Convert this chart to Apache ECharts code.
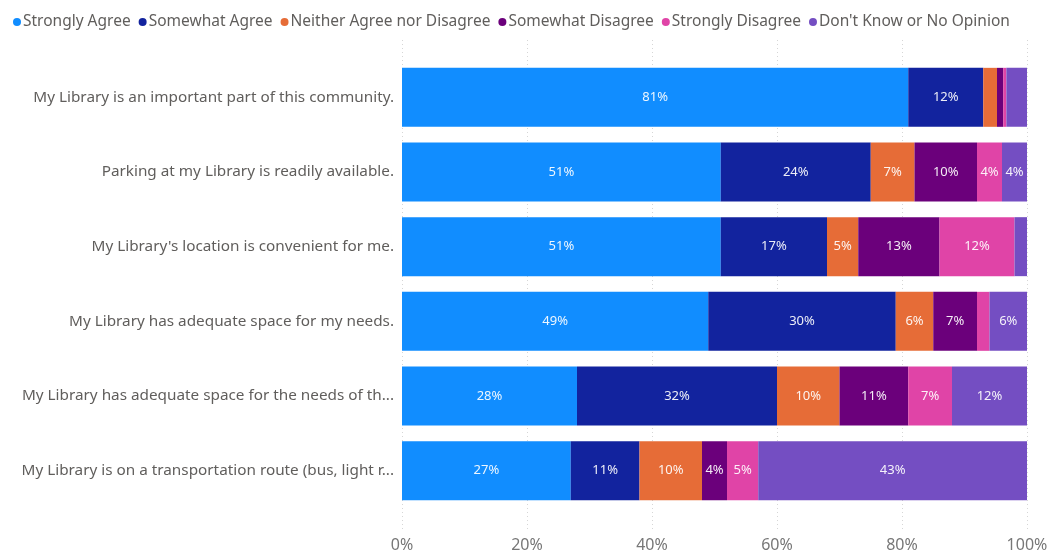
<!DOCTYPE html>
<html>
<head>
<meta charset="utf-8">
<script src="https://cdn.jsdelivr.net/npm/echarts@6/dist/echarts.min.js"></script>
<style>
  html, body { margin: 0; padding: 0; background: #ffffff; }
  #chart { width: 1055px; height: 553px; }
</style>
</head>
<body>
<div id="chart"></div>
<script>
// Survey statements, top to bottom
const statements = [
  "My Library is an important part of this community.",
  "Parking at my Library is readily available.",
  "My Library's location is convenient for me.",
  "My Library has adequate space for my needs.",
  "My Library has adequate space for the needs of th...",
  "My Library is on a transportation route (bus, light r..."
];

// Response shares (%), one array per answer, in statement order
const stronglyAgree      = [81, 51, 51, 49, 28, 27];
const somewhatAgree      = [12, 24, 17, 30, 32, 11];
const neitherAgree       = [2.2, 7, 5, 6, 10, 10];
const somewhatDisagree   = [1.0, 10, 13, 7, 11, 4];
const stronglyDisagree   = [0.5, 4, 12, 2, 7, 5];
const dontKnow           = [3.3, 4, 2, 6, 12, 43];

const xTicks = [0, 20, 40, 60, 80, 100];

const seriesDefs = [
  { name: "Strongly Agree", data: stronglyAgree, color: "#118DFF" },
  { name: "Somewhat Agree", data: somewhatAgree, color: "#12239E" },
  { name: "Neither Agree nor Disagree", data: neitherAgree, color: "#E66C37" },
  { name: "Somewhat Disagree", data: somewhatDisagree, color: "#6B007B" },
  { name: "Strongly Disagree", data: stronglyDisagree, color: "#E044A7" },
  { name: "Don't Know or No Opinion", data: dontKnow, color: "#744EC2" }
];

const FONT = "'Segoe UI', 'Noto Sans', sans-serif";

const chart = echarts.init(document.getElementById("chart"), null, { renderer: "canvas" });

chart.setOption({
  animation: false,
  backgroundColor: "#ffffff",
  textStyle: { fontFamily: FONT },
  legend: {
    left: 8,
    top: 9,
    itemWidth: 8,
    itemHeight: 8,
    itemGap: 8,
    icon: "circle",
    textStyle: { color: "#605E5C", fontSize: 15.5, fontFamily: FONT, padding: [0, 0, 0, -3] },
    data: seriesDefs.map(s => s.name)
  },
  grid: [
    // gridline frame with the percentage axis
    { left: 402, right: 28, top: 40, bottom: 23 },
    // bar area
    { left: 402, right: 28, top: 60, bottom: 45 }
  ],
  xAxis: [
    {
      gridIndex: 0,
      type: "value",
      min: 0, max: 100, interval: 20,
      axisLine: { show: false },
      axisTick: { show: false },
      axisLabel: {
        color: "#777777", fontSize: 16, fontFamily: FONT, margin: 7,
        formatter: v => xTicks.includes(v) ? v + "%" : ""
      },
      splitLine: { show: true, lineStyle: { color: "#d6d6d6", type: [1, 3], width: 1 } }
    },
    {
      gridIndex: 1,
      type: "value",
      min: 0, max: 100,
      show: false
    }
  ],
  yAxis: [
    {
      gridIndex: 0,
      type: "category",
      data: [""],
      show: false
    },
    {
      gridIndex: 1,
      type: "category",
      inverse: true,
      data: statements,
      axisLine: { show: false },
      axisTick: { show: false },
      axisLabel: { color: "#605E5C", fontSize: 15.3, fontFamily: FONT, margin: 8 }
    }
  ],
  series: seriesDefs.map(s => ({
    name: s.name,
    type: "bar",
    stack: "total",
    xAxisIndex: 1,
    yAxisIndex: 1,
    barWidth: "79%",
    itemStyle: { color: s.color },
    label: {
      show: true,
      position: "inside",
      color: "rgba(255,255,255,0.92)",
      fontSize: 13,
      fontFamily: FONT,
      formatter: p => p.value >= 3.5 ? Math.round(p.value) + "%" : ""
    },
    data: s.data
  }))
});
</script>
</body>
</html>
